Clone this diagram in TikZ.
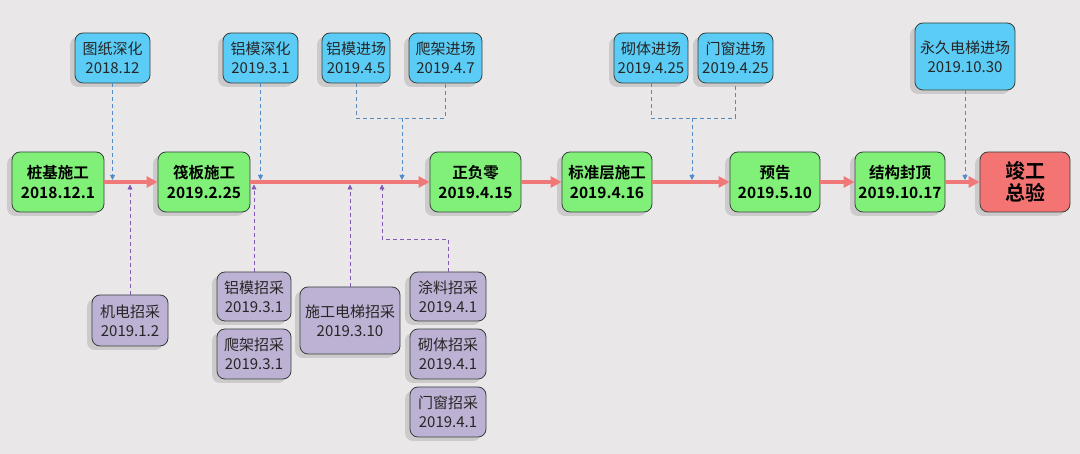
\documentclass[tikz,border=0pt]{standalone}
\usepackage{fontspec}
\setmainfont{Noto Sans CJK SC}[BoldFont={Noto Sans CJK SC Bold}]
\usetikzlibrary{arrows.meta,shadows}
\definecolor{bg}{RGB}{234,231,233}
\definecolor{gfill}{RGB}{128,240,120}
\definecolor{bfill}{RGB}{90,204,245}
\definecolor{pfill}{RGB}{190,178,212}
\definecolor{rfill}{RGB}{244,115,115}
\definecolor{mline}{RGB}{240,120,120}
\definecolor{bdash}{RGB}{80,140,200}
\definecolor{pdash}{RGB}{130,90,180}
\definecolor{edge}{RGB}{55,65,60}
\tikzset{
  box/.style={draw=edge, line width=0.8pt, rounded corners=8pt, align=center, inner sep=0pt,
    font=\fontsize{15}{19}\selectfont, text=black!85,
    drop shadow={shadow xshift=-5pt, shadow yshift=-4pt, opacity=0.12, fill=black}},
  mainbox/.style={box, fill=gfill, minimum height=60pt, text=black,
    font=\bfseries\fontsize{15.5}{20}\selectfont},
  endbox/.style={box, fill=rfill, minimum height=60pt, minimum width=90pt, text=black,
    font=\bfseries\fontsize{20}{22}\selectfont},
  topbox/.style={box, fill=bfill, minimum height=50pt},
  botbox/.style={box, fill=pfill, minimum height=50pt},
  flow/.style={draw=mline, line width=3.5pt, -{Triangle[length=11pt,width=11pt]}},
  bconn/.style={draw=bdash, line width=0.8pt, dash pattern=on 4pt off 3pt, -{Triangle[length=5pt,width=5pt]}},
  bline/.style={draw=bdash!80!gray, line width=0.8pt, dash pattern=on 4pt off 3pt},
  pconn/.style={draw=pdash, line width=0.8pt, dash pattern=on 4pt off 3pt, -{Triangle[length=5pt,width=5pt]}},
}
\begin{document}
\begin{tikzpicture}[x=1pt,y=-1pt]
\fill[bg] (0,0) rectangle (1080,454);
\useasboundingbox (0,0) rectangle (1080,454);
% main milestones
\node[mainbox, minimum width=92pt] (n1) at (58,182) {桩基施工\\2018.12.1};
\node[mainbox, minimum width=92pt] (n2) at (204,182) {筏板施工\\2019.2.25};
\node[mainbox, minimum width=91pt] (n3) at (475.5,182) {正负零\\2019.4.15};
\node[mainbox, minimum width=90pt] (n4) at (607,182) {标准层施工\\2019.4.16};
\node[mainbox, minimum width=90pt] (n5) at (775,182) {预告\\2019.5.10};
\node[mainbox, minimum width=90pt] (n6) at (900,182) {结构封顶\\2019.10.17};
\node[endbox] (n7) at (1025,182) {竣工\\总验};
% top (blue)
\node[topbox, minimum width=75pt] (b1) at (112.5,58) {图纸深化\\2018.12};
\node[topbox, minimum width=75pt] (b2) at (260.5,58) {铝模深化\\2019.3.1};
\node[topbox, minimum width=68pt] (b3) at (356,58) {铝模进场\\2019.4.5};
\node[topbox, minimum width=73pt] (b4) at (445.5,58) {爬架进场\\2019.4.7};
\node[topbox, minimum width=74pt] (b5) at (651,58) {砌体进场\\2019.4.25};
\node[topbox, minimum width=75pt] (b6) at (735.5,58) {门窗进场\\2019.4.25};
\node[topbox, minimum width=100pt, minimum height=67pt] (b7) at (965,56.5) {永久电梯进场\\2019.10.30};
% bottom (purple)
\node[botbox, minimum width=76pt, minimum height=51pt] (p1) at (130,320.5) {机电招采\\2019.1.2};
\node[botbox, minimum width=74pt, minimum height=49pt] (p2) at (254,296.5) {铝模招采\\2019.3.1};
\node[botbox, minimum width=74pt] (p3) at (254,354) {爬架招采\\2019.3.1};
\node[botbox, minimum width=100pt, minimum height=67pt] (p4) at (350,320.5) {施工电梯招采\\2019.3.10};
\node[botbox, minimum width=76pt, minimum height=49pt] (p5) at (448,296.5) {涂料招采\\2019.4.1};
\node[botbox, minimum width=76pt] (p6) at (448,354) {砌体招采\\2019.4.1};
\node[botbox, minimum width=76pt] (p7) at (448,412) {门窗招采\\2019.4.1};
% main flow
\draw[flow] (n1) -- (n2);
\draw[flow] (n2) -- (n3);
\draw[flow] (n3) -- (n4);
\draw[flow] (n4) -- (n5);
\draw[flow] (n5) -- (n6);
\draw[flow] (n6) -- (n7);
% coordinates on the main line
\coordinate (a1) at (112.5,180);
\coordinate (a2) at (260.5,180);
\coordinate (a3) at (402,180);
\coordinate (a5) at (692,180);
\coordinate (a7) at (965,180);
\coordinate (j1) at (402,118);
\coordinate (j2) at (692,118);
\coordinate (c1) at (130,184.5);
\coordinate (c2) at (254,184.5);
\coordinate (c4) at (350,184.5);
\coordinate (c5) at (382,184.5);
\coordinate (j3) at (382,239);
% blue connectors
\draw[bconn] (b1.south) -- (a1);
\draw[bconn] (b2.south) -- (a2);
\draw[bline] (b3.south) |- (j1) -| (b4.south);
\draw[bconn] (j1) -- (a3);
\draw[bline] (b5.south) |- (j2) -| (b6.south);
\draw[bconn] (j2) -- (a5);
\draw[bconn] (b7.south) -- (a7);
% purple connectors
\draw[pconn] (p1.north) -- (c1);
\draw[pconn] (p2.north) -- (c2);
\draw[pconn] (p4.north) -- (c4);
\draw[pconn] (p5.north) |- (j3) -- (c5);
\end{tikzpicture}
\end{document}
